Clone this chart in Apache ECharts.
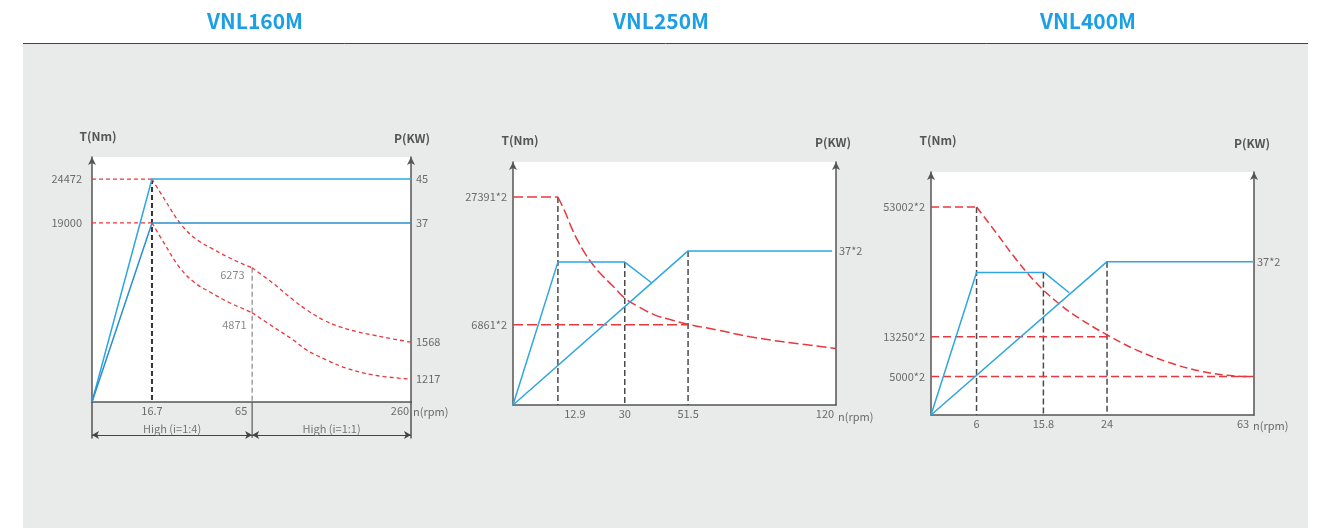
<!DOCTYPE html>
<html><head><meta charset="utf-8">
<script src="https://cdn.jsdelivr.net/npm/echarts@6/dist/echarts.min.js"></script>
<style>html,body{margin:0;padding:0;background:#fff;}#c{width:1322px;height:528px;}</style>
</head><body><div id="c"></div>
<script>
// ---------- DATA (schematic diagram: positions 0–100) ----------
const titles = ['VNL160M', 'VNL250M', 'VNL400M'];

// Chart 1 – VNL160M
const c1SpeedLabels = ['16.7', '65', '260'];
const c1SpeedPos = [18.8, 50.2, 100];
const c1TorqueLabels = ['24472', '19000'];
const c1TorquePos = [91.0, 73.1];
const c1PowerLabels = ['45', '37', '1568', '1217'];
const c1PowerPos = [91.0, 73.1, 24.4, 9.3];
const c1MidLabels = ['6273', '4871'];
const c1MidPos = [[50.2, 54.8], [50.2, 36.4]];
const c1TorqueHighFlat = [[0, 91.0], [18.8, 91.0]];
const c1TorqueHighA = [[18.8, 91.0], [22.9, 82.4], [27.6, 73.0], [32.3, 66.8], [37.5, 62.7], [42.7, 59.1], [48.0, 55.9], [50.2, 54.8]];
const c1TorqueHighB = [[50.2, 54.8], [56.8, 48.4], [63.1, 41.6], [67.3, 37.6], [72.5, 33.5], [77.7, 30.7], [83.0, 28.7], [88.2, 27.3], [94.5, 25.7], [100, 24.4]];
const c1TorqueLowFlat = [[0, 73.1], [18.8, 73.1]];
const c1TorqueLowA = [[18.8, 73.1], [22.9, 64.2], [27.6, 54.7], [32.3, 48.6], [37.5, 44.5], [42.7, 40.8], [48.0, 37.7], [50.2, 36.4]];
const c1TorqueLowB = [[50.2, 36.4], [56.8, 30.7], [63.1, 25.3], [67.3, 21.2], [73.6, 17.1], [79.8, 13.8], [88.2, 11.0], [100, 9.3]];
const c1PowerHigh = [[0, 0], [18.8, 91.0], [100, 91.0]];
const c1PowerLow = [[0, 0], [18.8, 73.1], [100, 73.1]];
const c1Ranges = ['High (i=1:4)', 'High (i=1:1)'];
const c1RangeBottom = -14.7;
const c1RangeLevel = -13.5;

// Chart 2 – VNL250M
const c2SpeedLabels = ['12.9', '30', '51.5', '120'];
const c2SpeedPos = [13.9, 34.6, 54.2, 100];
const c2GuideTops = [85.6, 58.8, 63.4];
const c2TorqueLabels = ['27391*2', '6861*2'];
const c2TorquePos = [85.6, 33.0];
const c2PowerLabels = ['37*2'];
const c2PowerPos = [63.4];
const c2TorqueFlat = [[0, 85.6], [13.9, 85.6]];
const c2TorqueCurve = [[13.9, 85.6], [16.1, 79.5], [18.2, 72.7], [20.2, 67.2], [22.3, 62.4], [24.4, 58.3], [27.5, 53.5], [30.6, 49.4], [34.7, 43.9], [38.8, 40.5], [44.0, 37.0], [49.1, 35.0], [54.2, 33.2], [63.1, 30.9], [73.4, 28.1], [83.7, 26.0], [100, 23.3]];
const c2TorqueBase = [[0, 33.0], [54.2, 33.0]];
const c2PowerA = [[0, 0], [13.9, 58.8], [34.6, 58.8], [42.9, 50.3]];
const c2PowerB = [[0, 0], [54.2, 63.4], [98.8, 63.4]];

// Chart 3 – VNL400M
const c3SpeedLabels = ['6', '15.8', '24', '63'];
const c3SpeedPos = [14.1, 34.8, 54.5, 100];
const c3GuideTops = [85.6, 58.6, 63.1];
const c3TorqueLabels = ['53002*2', '13250*2', '5000*2'];
const c3TorquePos = [85.6, 32.2, 15.8];
const c3PowerLabels = ['37*2'];
const c3PowerPos = [63.1];
const c3TorqueFlat = [[0, 85.6], [14.1, 85.6]];
const c3TorqueCurve = [[14.1, 85.6], [20.3, 74.8], [26.5, 63.8], [32.7, 54.2], [38.9, 46.6], [45.1, 40.5], [54.5, 33.0], [63.7, 26.7], [74.0, 21.5], [84.3, 17.8], [94.6, 16.0], [100, 15.8]];
const c3TorqueMid = [[0, 32.2], [54.5, 32.2]];
const c3TorqueBase = [[0, 15.8], [100, 15.8]];
const c3PowerA = [[0, 0], [14.1, 58.6], [35.1, 58.6], [42.8, 50.3]];
const c3PowerB = [[0, 0], [54.5, 63.1], [100, 63.1]];

// ---------- STYLE ----------
const FONT = '"Noto Sans CJK SC", "Noto Sans", sans-serif';
const AXIS = '#555';
const TXT = '#6b6b6b';
const RED = '#e8383d';
const BLUE = '#2fa6e1';
const BLUE2 = '#2a8fd0';
const GUIDE = '#4a4a4a';

function lookup(pos, labels) {
  return function (v) {
    let best = -1, d = 1e9;
    pos.forEach((p, i) => { const dd = Math.abs(p - v); if (dd < d) { d = dd; best = i; } });
    return d < 0.01 ? labels[best] : '';
  };
}
const rich = {
  c: { fontSize: 11, color: TXT, fontFamily: FONT },
  r: { fontSize: 11, color: TXT, fontFamily: FONT, padding: [0, 22, 0, 0] },
  s: { fontSize: 11, color: TXT, fontFamily: FONT, padding: [0, 0, 0, 34] }
};
function xAxisCfg(gi, pos, labels, styles, nameGap, namePadTop) {
  return {
    type: 'value', gridIndex: gi, min: 0, max: 100,
    axisLine: { show: true, onZero: false, lineStyle: { color: AXIS, width: 1.5 } },
    axisTick: { show: false }, splitLine: { show: false },
    axisLabel: {
      customValues: pos, margin: 3, fontSize: 11, color: TXT, fontFamily: FONT, rich: rich,
      formatter: function (v) {
        const t = lookup(pos, labels)(v); const i = labels.indexOf(t);
        return t ? '{' + (styles[i] || 'c') + '|' + t + '}' : '';
      }
    },
    name: 'n(rpm)', nameLocation: 'end', nameGap: nameGap,
    nameTextStyle: { color: TXT, fontSize: 11, fontFamily: FONT, align: 'left', verticalAlign: 'top', padding: [namePadTop, 0, 0, 0] }
  };
}
function yAxisCfg(gi, side, pos, labels, margin, name, nameGap, shift) {
  return {
    type: 'value', gridIndex: gi, position: side, min: 0, max: 100,
    axisLine: { show: true, onZero: false, symbol: ['none', 'arrow'], symbolSize: [6, 8], lineStyle: { color: AXIS, width: 1.5 } },
    axisTick: { show: false }, splitLine: { show: false },
    axisLabel: { customValues: pos, margin: margin, fontSize: 11, color: TXT, fontFamily: FONT, formatter: lookup(pos, labels) },
    name: name, nameLocation: 'end', nameGap: nameGap,
    nameTextStyle: {
      color: '#555', fontSize: 12, fontWeight: 'bold', fontFamily: FONT,
      padding: shift >= 0 ? [0, 0, 0, shift * 2] : [0, -shift * 2, 0, 0]
    }
  };
}
function line(gi, data, color, width, dash, extra, yi) {
  return Object.assign({
    type: 'line', xAxisIndex: gi, yAxisIndex: yi === undefined ? gi * 2 : yi, data: data, symbol: 'none', silent: true,
    animation: false, lineStyle: { color: color, width: width, type: dash }, z: 3
  }, extra || {});
}
const SMOOTH = { smooth: 0.4 };
function guides(gi, pos, tops, n) {
  const out = [];
  for (let i = 0; i < n; i++) out.push(line(gi, [[pos[i], tops[i]], [pos[i], 0]], GUIDE, 1.5, [6, 3], { z: 2 }));
  return out;
}

const series = [];
// Chart 1
series.push(line(0, c1TorqueHighFlat, RED, 1.3, [4, 3]));
series.push(line(0, c1TorqueHighA, RED, 1.3, [4, 3], SMOOTH));
series.push(line(0, c1TorqueHighB, RED, 1.3, [4, 3], SMOOTH));
series.push(line(0, c1TorqueLowFlat, RED, 1.3, [4, 3]));
series.push(line(0, c1TorqueLowA, RED, 1.3, [4, 3], SMOOTH));
series.push(line(0, c1TorqueLowB, RED, 1.3, [4, 3], SMOOTH));
series.push(line(0, c1PowerHigh, BLUE, 1.5, 'solid'));
series.push(line(0, c1PowerLow, BLUE2, 1.5, 'solid'));
series.push(line(0, [[c1SpeedPos[0], c1TorquePos[0]], [c1SpeedPos[0], 0]], '#333', 2, [5, 3], { z: 2 }));
series.push(line(0, [[c1SpeedPos[1], c1MidPos[0][1]], [c1SpeedPos[1], 0]], '#8f8f8f', 1.3, [5, 3], { z: 2 }));
// Chart 1 – range bracket below the speed axis (separate strip grid 3)
series.push(line(3, [[c1SpeedPos[1], 0], [c1SpeedPos[1], c1RangeBottom]], '#666', 1.3, 'solid', { z: 2 }, 6));
series.push({
  type: 'line', xAxisIndex: 3, yAxisIndex: 6, data: [], symbol: 'none', silent: true, animation: false,
  markLine: {
    silent: true, animation: false, symbol: ['arrow', 'arrow'], symbolSize: [6, 7],
    lineStyle: { color: '#444', width: 1, type: 'solid' },
    label: { show: true, position: 'middle', formatter: '{b}', color: '#777', fontSize: 11, fontFamily: FONT, distance: 1 },
    data: [
      [{ name: c1Ranges[0], coord: [0, c1RangeLevel] }, { coord: [c1SpeedPos[1], c1RangeLevel] }],
      [{ name: c1Ranges[1], coord: [c1SpeedPos[1], c1RangeLevel] }, { coord: [c1SpeedPos[2], c1RangeLevel] }]
    ]
  }
});
series.push({
  type: 'scatter', xAxisIndex: 0, yAxisIndex: 0, symbolSize: 1, itemStyle: { color: 'rgba(0,0,0,0)' }, silent: true, animation: false, z: 5,
  data: [
    { value: c1MidPos[0], label: { show: true, formatter: c1MidLabels[0], position: 'left', distance: 7, offset: [0, 7], color: TXT, fontSize: 11, fontFamily: FONT } },
    { value: c1MidPos[1], label: { show: true, formatter: c1MidLabels[1], position: 'left', distance: 5, offset: [0, 12], color: TXT, fontSize: 11, fontFamily: FONT } }
  ]
});
// Chart 2
series.push(...guides(1, c2SpeedPos, c2GuideTops, 3));
series.push(line(1, c2TorqueFlat, RED, 1.5, [10, 4]));
series.push(line(1, c2TorqueCurve, RED, 1.5, [10, 4], SMOOTH));
series.push(line(1, c2TorqueBase, RED, 1.5, [10, 4]));
series.push(line(1, c2PowerA, BLUE, 1.5, 'solid'));
series.push(line(1, c2PowerB, BLUE, 1.5, 'solid'));
// Chart 3
series.push(...guides(2, c3SpeedPos, c3GuideTops, 3));
series.push(line(2, c3TorqueFlat, RED, 1.5, [8, 4]));
series.push(line(2, c3TorqueCurve, RED, 1.5, [8, 4], SMOOTH));
series.push(line(2, c3TorqueMid, RED, 1.5, [8, 4]));
series.push(line(2, c3TorqueBase, RED, 1.5, [8, 4]));
series.push(line(2, c3PowerA, BLUE, 1.5, 'solid'));
series.push(line(2, c3PowerB, BLUE, 1.5, 'solid'));

const stripY = function (side) {
  return {
    type: 'value', gridIndex: 3, position: side, min: c1RangeBottom, max: 0,
    axisLine: { show: true, onZero: false, lineStyle: { color: AXIS, width: 1.5 } },
    axisTick: { show: false }, axisLabel: { show: false }, splitLine: { show: false }
  };
};

const option = {
  animation: false,
  textStyle: { fontFamily: FONT },
  graphic: [
    { type: 'rect', z: -10, silent: true, shape: { x: 23, y: 44, width: 1285, height: 484 }, style: { fill: '#e9eaea' } },
    { type: 'line', z: -9, silent: true, shape: { x1: 23, y1: 43.5, x2: 1308, y2: 43.5 }, style: { stroke: '#444', lineWidth: 1 } },
    { type: 'text', x: 255, y: 21, style: { text: titles[0], align: 'center', verticalAlign: 'middle', font: 'bold 21px ' + FONT, fill: '#1c9fe4' } },
    { type: 'text', x: 661, y: 21, style: { text: titles[1], align: 'center', verticalAlign: 'middle', font: 'bold 21px ' + FONT, fill: '#1c9fe4' } },
    { type: 'text', x: 1088, y: 21, style: { text: titles[2], align: 'center', verticalAlign: 'middle', font: 'bold 21px ' + FONT, fill: '#1c9fe4' } }
  ],
  grid: [
    { left: 92, top: 157, width: 319, height: 245, show: true, backgroundColor: '#fff', borderWidth: 0 },
    { left: 513, top: 162, width: 323, height: 243, show: true, backgroundColor: '#fff', borderWidth: 0 },
    { left: 931, top: 172, width: 323, height: 243, show: true, backgroundColor: '#fff', borderWidth: 0 },
    { left: 92, top: 402, width: 319, height: 36, show: false }
  ],
  xAxis: [
    xAxisCfg(0, c1SpeedPos, c1SpeedLabels, ['c', 'r', 'r'], 0, 4),
    xAxisCfg(1, c2SpeedPos, c2SpeedLabels, ['s', 'c', 'c', 'r'], -3, 6),
    xAxisCfg(2, c3SpeedPos, c3SpeedLabels, ['c', 'c', 'c', 'r'], -1, 5),
    { type: 'value', gridIndex: 3, min: 0, max: 100, show: false }
  ],
  yAxis: [
    yAxisCfg(0, 'left', c1TorquePos, c1TorqueLabels, 10, 'T(Nm)', 15, 6),
    yAxisCfg(0, 'right', c1PowerPos, c1PowerLabels, 5, 'P(KW)', 13, 1),
    yAxisCfg(1, 'left', c2TorquePos, c2TorqueLabels, 6, 'T(Nm)', 16, 7),
    yAxisCfg(1, 'right', c2PowerPos, c2PowerLabels, 3, 'P(KW)', 14, -3),
    yAxisCfg(2, 'left', c3TorquePos, c3TorqueLabels, 6, 'T(Nm)', 26, 7),
    yAxisCfg(2, 'right', c3PowerPos, c3PowerLabels, 3, 'P(KW)', 23, -2),
    stripY('left'),
    stripY('right')
  ],
  series: series
};
const chart = echarts.init(document.getElementById('c'));
chart.setOption(option);
</script></body></html>
